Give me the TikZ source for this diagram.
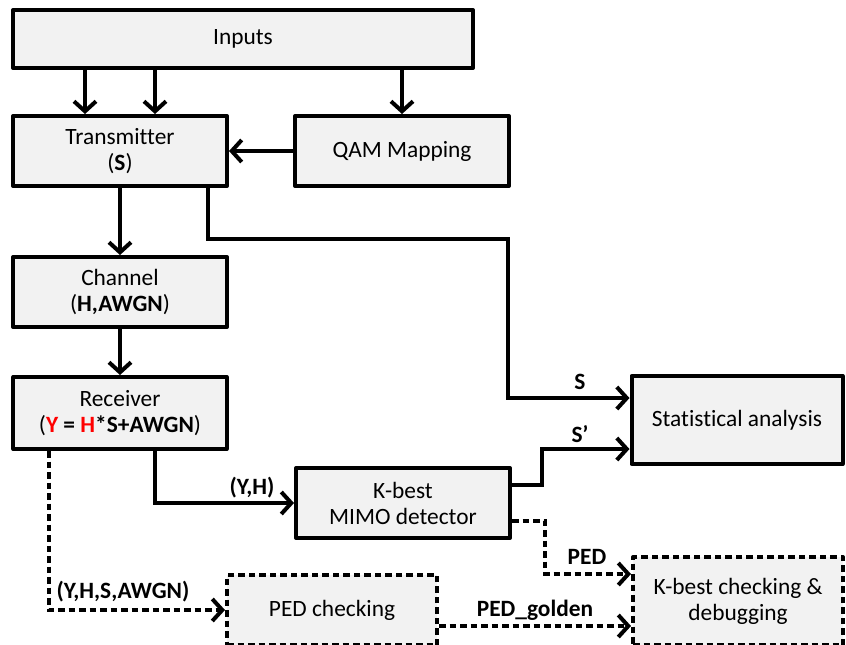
\documentclass[tikz,border=0pt]{standalone}
\usepackage{fontspec}
\setmainfont{Carlito}[Ligatures=NoCommon]
\usetikzlibrary{arrows.meta,calc}
\definecolor{boxfill}{RGB}{242,242,242}
\tikzset{
  box/.style  = {draw, line width=0.8mm, fill=boxfill, align=center,
                 inner sep=2pt, line join=round,
                 font=\fontsize{13.3}{14.8}\selectfont},
  dbox/.style = {box, dash pattern=on 1.3mm off 0.8mm},
  arr/.style  = {-{Straight Barb[length=2mm,width=4.4mm]}, line width=0.8mm},
  darr/.style = {arr, dash pattern=on 1.3mm off 0.8mm},
  lbl/.style  = {font=\fontsize{13.3}{14.8}\selectfont\bfseries, inner sep=0pt}
}

\begin{document}
\begin{tikzpicture}[x=0.2mm, y=-0.2mm]
  \useasboundingbox (0,0) rectangle (846,644);
  % blocks
  \node[box, minimum width=92mm, minimum height=11.6mm] (inputs) at (243,39) {Inputs};
  \node[box, minimum width=42.8mm, minimum height=14mm] (tx) at (120,151) {Transmitter\\(\textbf{S})};
  \node[box, minimum width=42.8mm, minimum height=14mm] (qam) at (402,151) {QAM Mapping};
  \node[box, minimum width=42.8mm, minimum height=14mm] (ch) at (120,292) {Channel\\(\textbf{H,AWGN})};
  \node[box, minimum width=42.6mm, minimum height=14.4mm] (rx) at (120,413)
    {Receiver\\(\textbf{\textcolor{red}{Y} = \textcolor{red}{H}*S+AWGN})};
  \node[box, minimum width=42.8mm, minimum height=14mm] (kbest) at (403,503) {K-best\\MIMO detector};
  \node[box, minimum width=42.2mm, minimum height=17.6mm] (stat) at (737,420) {Statistical analysis};
  \node[dbox, minimum width=42mm, minimum height=14mm] (pedchk) at (332,610) {PED checking};
  \node[dbox, minimum width=42mm, minimum height=17.6mm] (kbchk) at (738,601) {K-best checking \&\\debugging};

  % end points on the block borders
  \coordinate (txA) at ($(tx.north)+(-35,0)$);
  \coordinate (txB) at ($(tx.north)+(35,0)$);
  \coordinate (sIn) at ($(stat.west)+(0,-22)$);
  \coordinate (sdIn) at ($(stat.west)+(0,29)$);
  \coordinate (pedIn) at ($(kbchk.west)+(0,-27)$);
  \coordinate (goldIn) at ($(kbchk.west)+(0,25)$);

  % solid connectors
  \draw[arr] (inputs.south -| txA) -- (txA);
  \draw[arr] (inputs.south -| txB) -- (txB);
  \draw[arr] (inputs.south -| qam.north) -- (qam.north);
  \draw[arr] (qam.west) -- (tx.east);
  \draw[arr] (tx.south) -- (ch.north);
  \draw[arr] (ch.south) -- (rx.north);
  \draw[arr] ($(tx.south)+(88,0)$) |- (508,239) |- (sIn);
  \draw[arr] ($(kbest.east)+(0,-18)$) -| (542,449) -- (sdIn);
  \draw[arr] ($(rx.south)+(35,0)$) |- (kbest.west);

  % dashed connectors
  \draw[darr] ($(rx.south)+(-71,0)$) |- (pedchk.west);
  \draw[darr] ($(kbest.east)+(0,18)$) -| (545,574) -- (pedIn);
  \draw[darr] ($(pedchk.east)+(0,16)$) -- (goldIn);

  % labels
  \node[lbl] (lblS) at (580,382) {S};
  \node[lbl] (lblSd) at (580,434) {S’};
  \node[lbl] (lblYH) at (252,488) {(Y,H)};
  \node[lbl] (lblAll) at (123,592) {(Y,H,S,AWGN)};
  \node[lbl] (lblPED) at (587,557) {PED};
  \node[lbl] (lblGold) at (535,610) {PED\_golden};
\end{tikzpicture}
\end{document}
